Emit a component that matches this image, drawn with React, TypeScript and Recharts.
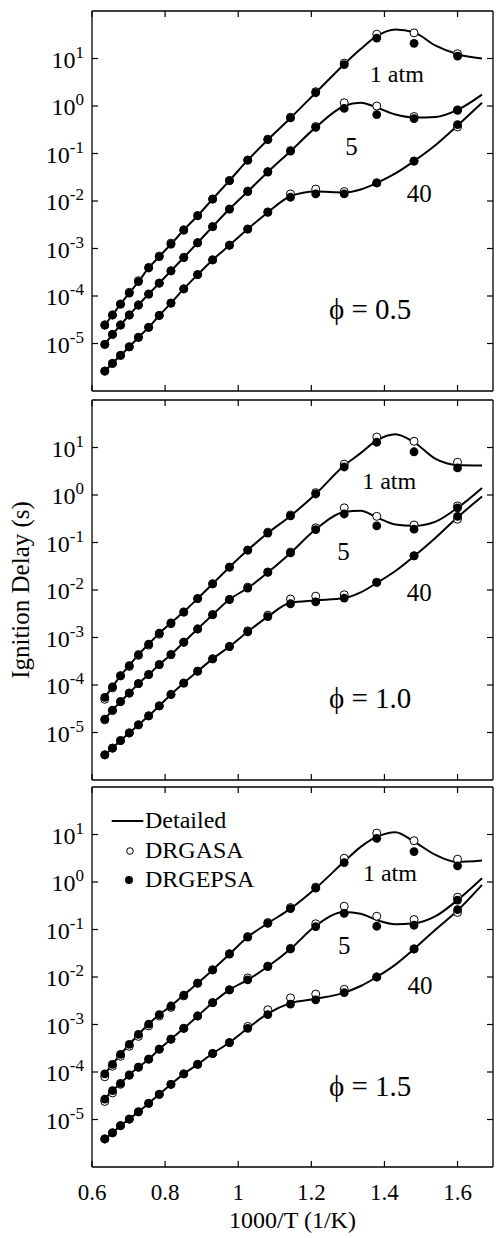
import React from 'react';
import { ComposedChart, Line, Scatter, XAxis, YAxis, ReferenceDot, Legend } from 'recharts';

const FONT = '"Liberation Serif", "Times New Roman", serif';

// 1000/T of the reduced-mechanism symbols and of the detailed curve
const X_PTS = [0.635, 0.656, 0.678, 0.702, 0.727, 0.755, 0.784, 0.816, 0.851, 0.889, 0.93, 0.976, 1.026, 1.081, 1.143, 1.212, 1.29, 1.379, 1.481, 1.6];
const X_LINE = [0.635, 0.656, 0.678, 0.702, 0.727, 0.755, 0.784, 0.816, 0.851, 0.889, 0.93, 0.976, 1.026, 1.081, 1.143, 1.212, 1.29, 1.335, 1.379, 1.43, 1.481, 1.54, 1.6, 1.667];

const X_TICKS = [0.6, 0.8, 1, 1.2, 1.4, 1.6];
const Y_TICKS = [1e-5, 1e-4, 1e-3, 1e-2, 1e-1, 1, 10];
const Y_EXPONENTS = ['-5', '-4', '-3', '-2', '-1', '0', '1'];
const LEGEND_NAMES = ['Detailed', 'DRGASA', 'DRGEPSA'];

// phi = 0.5
const P05_1_DET = [2.45e-5, 3.98e-5, 6.76e-5, 1.15e-4, 2.0e-4, 3.89e-4, 6.76e-4, 1.23e-3, 2.45e-3, 4.9e-3, 1.1e-2, 2.69e-2, 7.24e-2, 0.195, 0.56, 1.9, 7.6, 15.8, 29.5, 40.7, 35.5, 18.6, 12.3, 10.0];
const P05_1_ASA = [2.45e-5, 3.98e-5, 6.76e-5, 1.2e-4, 2.1e-4, 4.0e-4, 6.9e-4, 1.3e-3, 2.45e-3, 4.9e-3, 1.1e-2, 2.69e-2, 7.24e-2, 0.2, 0.58, 2.0, 8.0, 32.4, 34.7, 12.6];
const P05_1_EPSA = [2.45e-5, 3.98e-5, 6.76e-5, 1.15e-4, 2.0e-4, 3.89e-4, 6.76e-4, 1.23e-3, 2.45e-3, 4.9e-3, 1.1e-2, 2.69e-2, 7.24e-2, 0.195, 0.56, 1.9, 7.4, 26.9, 20.9, 11.2];
const P05_5_DET = [9.55e-6, 1.55e-5, 2.45e-5, 3.98e-5, 6.46e-5, 1.1e-4, 1.86e-4, 3.39e-4, 6.46e-4, 1.32e-3, 2.88e-3, 6.76e-3, 1.58e-2, 4.07e-2, 0.112, 0.355, 1.0, 1.17, 0.93, 0.66, 0.575, 0.59, 0.83, 1.74];
const P05_5_ASA = [9.55e-6, 1.55e-5, 2.45e-5, 3.98e-5, 6.46e-5, 1.1e-4, 1.86e-4, 3.39e-4, 6.46e-4, 1.32e-3, 2.88e-3, 6.76e-3, 1.62e-2, 4.17e-2, 0.115, 0.37, 1.17, 1.0, 0.6, 0.83];
const P05_5_EPSA = [9.55e-6, 1.55e-5, 2.45e-5, 3.98e-5, 6.46e-5, 1.1e-4, 1.86e-4, 3.39e-4, 6.46e-4, 1.32e-3, 2.88e-3, 6.76e-3, 1.58e-2, 4.07e-2, 0.112, 0.355, 0.89, 0.66, 0.54, 0.81];
const P05_40_DET = [2.63e-6, 3.8e-6, 5.62e-6, 8.51e-6, 1.35e-5, 2.19e-5, 3.89e-5, 7.08e-5, 1.41e-4, 2.82e-4, 5.75e-4, 1.17e-3, 2.57e-3, 5.75e-3, 1.26e-2, 1.58e-2, 1.51e-2, 1.74e-2, 2.4e-2, 3.8e-2, 6.92e-2, 0.151, 0.389, 1.17];
const P05_40_ASA = [2.63e-6, 3.8e-6, 5.62e-6, 8.51e-6, 1.35e-5, 2.19e-5, 3.89e-5, 7.08e-5, 1.41e-4, 2.82e-4, 5.75e-4, 1.17e-3, 2.57e-3, 5.9e-3, 1.41e-2, 1.78e-2, 1.58e-2, 2.4e-2, 6.92e-2, 0.363];
const P05_40_EPSA = [2.63e-6, 3.8e-6, 5.62e-6, 8.51e-6, 1.35e-5, 2.19e-5, 3.89e-5, 7.08e-5, 1.41e-4, 2.82e-4, 5.75e-4, 1.17e-3, 2.57e-3, 5.75e-3, 1.2e-2, 1.41e-2, 1.41e-2, 2.4e-2, 6.92e-2, 0.407];

// phi = 1.0
const P10_1_DET = [5.5e-5, 9.12e-5, 1.58e-4, 2.57e-4, 4.37e-4, 7.24e-4, 1.23e-3, 2.04e-3, 3.47e-3, 6.61e-3, 1.35e-2, 3.02e-2, 6.92e-2, 0.158, 0.363, 1.05, 4.17, 7.6, 14.1, 19.1, 12.9, 5.75, 4.27, 4.17];
const P10_1_ASA = [5.0e-5, 8.7e-5, 1.55e-4, 2.45e-4, 4.2e-4, 6.9e-4, 1.17e-3, 1.95e-3, 3.4e-3, 6.61e-3, 1.35e-2, 3.02e-2, 6.92e-2, 0.165, 0.38, 1.12, 4.47, 16.6, 13.5, 4.9];
const P10_1_EPSA = [5.5e-5, 9.12e-5, 1.58e-4, 2.57e-4, 4.37e-4, 7.24e-4, 1.23e-3, 2.04e-3, 3.47e-3, 6.61e-3, 1.35e-2, 3.02e-2, 6.92e-2, 0.158, 0.363, 1.05, 3.89, 12.9, 8.13, 3.72];
const P10_5_DET = [1.91e-5, 2.95e-5, 4.47e-5, 6.76e-5, 1.07e-4, 1.66e-4, 2.69e-4, 4.37e-4, 7.94e-4, 1.51e-3, 3.02e-3, 6.31e-3, 1.1e-2, 2.34e-2, 6.03e-2, 0.19, 0.437, 0.468, 0.339, 0.24, 0.224, 0.275, 0.537, 1.41];
const P10_5_ASA = [1.85e-5, 2.9e-5, 4.47e-5, 6.76e-5, 1.07e-4, 1.66e-4, 2.69e-4, 4.37e-4, 7.94e-4, 1.51e-3, 3.02e-3, 6.31e-3, 1.15e-2, 2.4e-2, 6.3e-2, 0.204, 0.537, 0.355, 0.234, 0.589];
const P10_5_EPSA = [1.91e-5, 2.95e-5, 4.47e-5, 6.76e-5, 1.07e-4, 1.66e-4, 2.69e-4, 4.37e-4, 7.94e-4, 1.51e-3, 3.02e-3, 6.31e-3, 1.1e-2, 2.34e-2, 6.03e-2, 0.186, 0.398, 0.224, 0.191, 0.537];
const P10_40_DET = [3.39e-6, 4.68e-6, 6.76e-6, 9.77e-6, 1.45e-5, 2.24e-5, 3.63e-5, 6.31e-5, 1.1e-4, 1.95e-4, 3.55e-4, 6.46e-4, 1.32e-3, 2.75e-3, 5.37e-3, 6.03e-3, 6.76e-3, 8.91e-3, 1.41e-2, 2.51e-2, 5.13e-2, 0.126, 0.339, 0.933];
const P10_40_ASA = [3.39e-6, 4.68e-6, 6.76e-6, 9.77e-6, 1.45e-5, 2.24e-5, 3.63e-5, 6.31e-5, 1.1e-4, 1.95e-4, 3.55e-4, 6.46e-4, 1.38e-3, 2.95e-3, 6.46e-3, 7.41e-3, 7.94e-3, 1.45e-2, 5.25e-2, 0.309];
const P10_40_EPSA = [3.39e-6, 4.68e-6, 6.76e-6, 9.77e-6, 1.45e-5, 2.24e-5, 3.63e-5, 6.31e-5, 1.1e-4, 1.95e-4, 3.55e-4, 6.46e-4, 1.32e-3, 2.75e-3, 5.13e-3, 5.62e-3, 6.76e-3, 1.45e-2, 5.25e-2, 0.355];

// phi = 1.5
const P15_1_DET = [9.12e-5, 1.45e-4, 2.34e-4, 3.8e-4, 6.17e-4, 1.02e-3, 1.62e-3, 2.45e-3, 4.17e-3, 7.41e-3, 1.41e-2, 3.02e-2, 6.92e-2, 0.135, 0.275, 0.741, 2.69, 5.5, 8.91, 11.2, 7.08, 3.72, 2.63, 2.82];
const P15_1_ASA = [7.94e-5, 1.32e-4, 2.14e-4, 3.47e-4, 5.62e-4, 9.33e-4, 1.51e-3, 2.29e-3, 4.0e-3, 7.41e-3, 1.41e-2, 3.1e-2, 7.1e-2, 0.14, 0.29, 0.78, 3.16, 10.7, 7.41, 3.02];
const P15_1_EPSA = [9.12e-5, 1.45e-4, 2.34e-4, 3.8e-4, 6.17e-4, 1.02e-3, 1.62e-3, 2.45e-3, 4.17e-3, 7.41e-3, 1.41e-2, 3.02e-2, 6.92e-2, 0.135, 0.275, 0.741, 2.57, 8.32, 4.37, 2.19];
const P15_5_DET = [2.69e-5, 4.07e-5, 5.75e-5, 8.71e-5, 1.26e-4, 1.86e-4, 3.02e-4, 4.9e-4, 8.32e-4, 1.51e-3, 2.88e-3, 5.37e-3, 8.71e-3, 1.66e-2, 3.89e-2, 0.12, 0.234, 0.214, 0.158, 0.129, 0.135, 0.191, 0.417, 1.2];
const P15_5_ASA = [2.4e-5, 3.63e-5, 5.5e-5, 8.5e-5, 1.26e-4, 1.86e-4, 3.02e-4, 4.9e-4, 8.32e-4, 1.51e-3, 2.88e-3, 5.37e-3, 9.55e-3, 1.7e-2, 4.0e-2, 0.132, 0.309, 0.19, 0.162, 0.479];
const P15_5_EPSA = [2.69e-5, 4.07e-5, 5.75e-5, 8.71e-5, 1.26e-4, 1.86e-4, 3.02e-4, 4.9e-4, 8.32e-4, 1.51e-3, 2.88e-3, 5.37e-3, 8.71e-3, 1.66e-2, 3.89e-2, 0.115, 0.219, 0.117, 0.123, 0.417];
const P15_40_DET = [3.89e-6, 5.25e-6, 7.41e-6, 1.02e-5, 1.45e-5, 2.19e-5, 3.39e-5, 5.5e-5, 9.12e-5, 1.45e-4, 2.45e-4, 4.17e-4, 8.32e-4, 1.7e-3, 2.82e-3, 3.47e-3, 4.68e-3, 6.46e-3, 1.0e-2, 1.82e-2, 3.89e-2, 0.1, 0.251, 0.871];
const P15_40_ASA = [3.89e-6, 5.25e-6, 7.41e-6, 1.02e-5, 1.45e-5, 2.19e-5, 3.39e-5, 5.5e-5, 9.12e-5, 1.45e-4, 2.45e-4, 4.17e-4, 9.12e-4, 2.04e-3, 3.63e-3, 4.37e-3, 5.5e-3, 1.0e-2, 3.89e-2, 0.229];
const P15_40_EPSA = [3.89e-6, 5.25e-6, 7.41e-6, 1.02e-5, 1.45e-5, 2.19e-5, 3.39e-5, 5.5e-5, 9.12e-5, 1.45e-4, 2.45e-4, 4.17e-4, 8.32e-4, 1.62e-3, 2.69e-3, 3.31e-3, 4.68e-3, 1.0e-2, 3.89e-2, 0.263];

// in-plot annotations: [text, 1000/T, delay, font size]
const P05_NOTES: [string, number, number, number][] = [['1 atm', 1.434, 4.9, 24], ['5', 1.31, 0.144, 25], ['40', 1.495, 0.015, 25], ['\u03d5 = 0.5', 1.361, 5.37e-5, 29]];
const P10_NOTES: [string, number, number, number][] = [['1 atm', 1.413, 2.07, 24], ['5', 1.288, 0.0673, 25], ['40', 1.495, 9.2e-3, 25], ['\u03d5 = 1.0', 1.361, 5.4e-5, 29]];
const P15_NOTES: [string, number, number, number][] = [['1 atm', 1.415, 1.57, 24], ['5', 1.29, 0.0472, 25], ['40', 1.497, 6.8e-3, 25], ['\u03d5 = 1.5', 1.361, 5.07e-5, 29]];

const toPoints = (xs: number[], ys: number[]) => xs.map((x, i) => ({ x, y: ys[i] }));

const PANELS = [
  { top: 0, notes: P05_NOTES, sets: [[P05_1_DET, P05_1_ASA, P05_1_EPSA], [P05_5_DET, P05_5_ASA, P05_5_EPSA], [P05_40_DET, P05_40_ASA, P05_40_EPSA]] },
  { top: 389, notes: P10_NOTES, sets: [[P10_1_DET, P10_1_ASA, P10_1_EPSA], [P10_5_DET, P10_5_ASA, P10_5_EPSA], [P10_40_DET, P10_40_ASA, P10_40_EPSA]] },
  { top: 776, notes: P15_NOTES, sets: [[P15_1_DET, P15_1_ASA, P15_1_EPSA], [P15_5_DET, P15_5_ASA, P15_5_EPSA], [P15_40_DET, P15_40_ASA, P15_40_EPSA]] },
];

const TICK_LEN = 6;
const AXIS = { stroke: '#000', strokeWidth: 1.3 };

const LeftTick = ({ x, y, index }: any) => (
  <g>
    <line x1={x} y1={y} x2={x + TICK_LEN} y2={y} stroke="#000" strokeWidth={1.2} />
    <text x={x - 8} y={y + 9} textAnchor="end" fontFamily={FONT} fontSize={24} fill="#000">
      <tspan>10</tspan>
      <tspan dy={-10} fontSize={17}>{Y_EXPONENTS[index]}</tspan>
    </text>
  </g>
);

const RightTick = ({ x, y }: any) => (
  <line x1={x} y1={y} x2={x - TICK_LEN} y2={y} stroke="#000" strokeWidth={1.2} />
);

const TopTick = ({ x, y }: any) => (
  <line x1={x} y1={y} x2={x} y2={y + TICK_LEN} stroke="#000" strokeWidth={1.2} />
);

const BottomTick = ({ x, y, payload, showLabel }: any) => (
  <g>
    <line x1={x} y1={y} x2={x} y2={y - TICK_LEN} stroke="#000" strokeWidth={1.2} />
    {showLabel && (
      <text x={x} y={y + 33} textAnchor="middle" fontFamily={FONT} fontSize={23} fill="#000">
        {payload.value}
      </text>
    )}
  </g>
);

const XTitle = ({ viewBox }: any) =>
  viewBox ? (
    <text x={viewBox.x + viewBox.width / 2} y={viewBox.y + 61} textAnchor="middle" fontFamily={FONT} fontSize={24} fill="#000">
      1000/T (1/K)
    </text>
  ) : null;

// plot of the middle panel spans y 11..391 inside its own chart
const YTitle = () => (
  <text x={29} y={201} transform="rotate(-90, 29, 201)" textAnchor="middle" fontFamily={FONT} fontSize={25} fill="#000">
    Ignition Delay (s)
  </text>
);

const LegendBox = () => (
  <div style={{ fontFamily: FONT, fontSize: 24, color: '#000', lineHeight: '29.2px' }}>
    {LEGEND_NAMES.map((name, i) => (
      <div key={name} style={{ display: 'flex', alignItems: 'center', height: 29.2 }}>
        <svg width={37} height={29.2} style={{ display: 'block' }}>
          {i === 0 && <line x1={3.7} x2={35.3} y1={14.9} y2={14.9} stroke="#000" strokeWidth={2} />}
          {i === 1 && <circle cx={22} cy={15} r={3.3} fill="#fff" stroke="#000" strokeWidth={1} />}
          {i === 2 && <circle cx={21} cy={15} r={4} fill="#000" />}
        </svg>
        <span>{name}</span>
      </div>
    ))}
  </div>
);

const OpenDot = (p: any) => <circle cx={p.cx} cy={p.cy} r={4} fill="#fff" stroke="#000" strokeWidth={1} />;
const FilledDot = (p: any) => <circle cx={p.cx} cy={p.cy} r={4.4} fill="#000" />;

const Panel = ({ panel, last }: { panel: (typeof PANELS)[number]; last: boolean }) => {
  const height = last ? 462 : 400;
  return (
    <div style={{ position: 'absolute', left: 0, top: panel.top }}>
      <ComposedChart width={496} height={height} margin={{ top: 10, right: 2, bottom: last ? 0 : 8, left: 0 }}>
        <XAxis
          xAxisId="b"
          dataKey="x"
          type="number"
          domain={[0.6, 1.697]}
          allowDataOverflow
          ticks={X_TICKS}
          interval={0}
          height={last ? 71 : 1}
          tickSize={0}
          tickMargin={0}
          tickLine={false}
          axisLine={AXIS}
          tick={<BottomTick showLabel={last} />}
          label={last ? <XTitle /> : undefined}
        />
        <XAxis
          xAxisId="t"
          orientation="top"
          dataKey="x"
          type="number"
          domain={[0.6, 1.697]}
          allowDataOverflow
          ticks={X_TICKS}
          interval={0}
          height={1}
          tickSize={0}
          tickMargin={0}
          tickLine={false}
          axisLine={AXIS}
          tick={<TopTick />}
        />
        <YAxis
          yAxisId="l"
          dataKey="y"
          type="number"
          scale="log"
          domain={[1e-6, 100]}
          allowDataOverflow
          ticks={Y_TICKS}
          interval={0}
          width={92}
          tickSize={0}
          tickMargin={0}
          tickLine={false}
          axisLine={AXIS}
          tick={<LeftTick />}
          label={panel.top === 389 ? <YTitle /> : undefined}
        />
        <YAxis
          yAxisId="r"
          orientation="right"
          dataKey="y"
          type="number"
          scale="log"
          domain={[1e-6, 100]}
          allowDataOverflow
          ticks={Y_TICKS}
          interval={0}
          width={1}
          tickSize={0}
          tickMargin={0}
          tickLine={false}
          axisLine={AXIS}
          tick={<RightTick />}
        />
        {panel.sets.map((s, i) => (
          <Line
            key={`det-${i}`}
            xAxisId="b"
            yAxisId="l"
            data={toPoints(X_LINE, s[0])}
            dataKey="y"
            type="monotone"
            stroke="#000"
            strokeWidth={2}
            dot={false}
            activeDot={false}
            isAnimationActive={false}
          />
        ))}
        {panel.sets.map((s, i) => (
          <Scatter key={`asa-${i}`} xAxisId="b" yAxisId="l" data={toPoints(X_PTS, s[1])} dataKey="y" shape={OpenDot} isAnimationActive={false} />
        ))}
        {panel.sets.map((s, i) => (
          <Scatter key={`epsa-${i}`} xAxisId="b" yAxisId="l" data={toPoints(X_PTS, s[2])} dataKey="y" shape={FilledDot} isAnimationActive={false} />
        ))}
        {panel.notes.map(([text, x, y, size]) => (
          <ReferenceDot
            key={text}
            xAxisId="b"
            yAxisId="l"
            x={x}
            y={y}
            r={0}
            fill="none"
            stroke="none"
            label={{ value: text, position: 'center', fill: '#000', fontSize: size, fontFamily: FONT }}
          />
        ))}
        {last && (
          <Legend
            layout="vertical"
            align="center"
            verticalAlign="middle"
            content={<LegendBox />}
            wrapperStyle={{ left: 108, top: 30.4, width: 'auto', height: 'auto' }}
          />
        )}
      </ComposedChart>
    </div>
  );
};

export default function App() {
  return (
    <div style={{ position: 'absolute', left: 0, top: 0, width: 496, height: 1238, background: '#fff' }}>
      {PANELS.map((p, i) => (
        <Panel key={i} panel={p} last={i === PANELS.length - 1} />
      ))}
    </div>
  );
}
